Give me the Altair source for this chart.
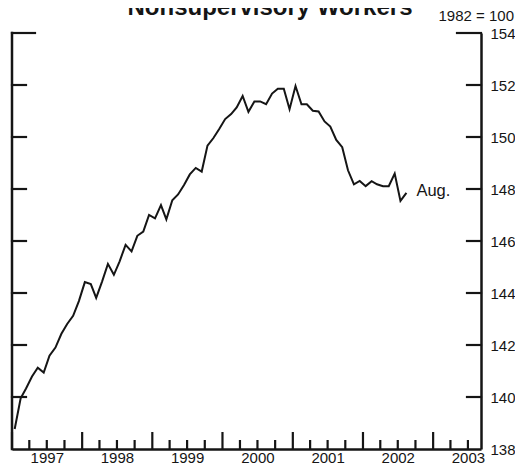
import altair as alt
import pandas as pd

TITLE = "Nonsupervisory Workers"
UNIT_NOTE = "1982 = 100"
END_LABEL = "Aug."
FIRST_MONTH = "1997-01-01"

# Monthly index values, Jan 1997 - Aug 2002
VALUES = [
    138.77, 139.95, 140.33, 140.79, 141.13, 140.94, 141.59, 141.90, 142.43, 142.81, 143.12, 143.69,
    144.42, 144.34, 143.81, 144.45, 145.12, 144.70, 145.22, 145.85, 145.60, 146.20, 146.36, 147.00,
    146.87, 147.38, 146.83, 147.57, 147.79, 148.15, 148.56, 148.81, 148.67, 149.67, 149.96, 150.31,
    150.69, 150.88, 151.14, 151.58, 150.97, 151.37, 151.37, 151.26, 151.67, 151.86, 151.86, 151.07,
    151.96, 151.26, 151.26, 151.01, 150.98, 150.60, 150.40, 149.89, 149.61, 148.72, 148.18, 148.31,
    148.11, 148.30, 148.18, 148.11, 148.11, 148.59, 147.54, 147.85,
]

Y_LABELS = [138, 140, 142, 144, 146, 148, 150, 152, 154]
Y_TICKS = [140, 142, 144, 146, 148, 150, 152]
Y_TOP = [154]
YEARS = [1997, 1998, 1999, 2000, 2001, 2002, 2003]
QUARTER_MONTHS = [4, 7, 10]
X_END = (2003, 9, 7)

FONT = "Liberation Sans"
INK = "#151515"
W, H = 469, 416

dates = pd.date_range(FIRST_MONTH, periods=len(VALUES), freq="MS") + pd.Timedelta(days=14)
df = pd.DataFrame({"date": dates, "value": VALUES})

year_ticks = pd.DataFrame({"date": pd.to_datetime([f"{y}-01-01" for y in YEARS])})
quarter_ticks = pd.DataFrame({"date": pd.to_datetime(
    [f"{y}-{m:02d}-01" for y in YEARS for m in QUARTER_MONTHS
     if pd.Timestamp(f"{y}-{m:02d}-01") < pd.Timestamp(*X_END)])})

x_scale = alt.Scale(
    domain=[alt.DateTime(year=1997, month=1, date=1),
            alt.DateTime(year=X_END[0], month=X_END[1], date=X_END[2])],
    nice=False)
y_scale = alt.Scale(domain=[Y_LABELS[0], Y_LABELS[-1]], nice=False, zero=False)

X_AXIS = alt.Axis(
    values=[alt.DateTime(year=y, month=7, date=1) for y in YEARS],
    format="%Y", formatType="time", ticks=False, tickSize=0, grid=False,
    domain=True, domainColor=INK, domainWidth=2.5, labelFont=FONT,
    labelFontSize=15, labelColor=INK, labelPadding=13,
    labelBaseline="alphabetic", labelFlush=False, labelOverlap=False)
Y_AXIS = alt.Axis(
    orient="right", values=Y_LABELS, ticks=False, tickSize=0, grid=False,
    domain=True, domainColor=INK, domainWidth=2.5, labelFont=FONT,
    labelFontSize=15, labelColor=INK, labelPadding=9, labelFlush=False,
    labelOverlap=False, labelBaseline="middle")


def X(field):
    return alt.X(field, type="temporal", scale=x_scale, title=None, axis=X_AXIS)


def Y(field):
    return alt.Y(field, type="quantitative", scale=y_scale, title=None, axis=Y_AXIS)


line = alt.Chart(df).mark_line(color=INK, strokeWidth=2).encode(
    x=X("date"), y=Y("value"))


def ytick_layer(vals, x0, x1):
    return alt.Chart(pd.DataFrame({"value": vals})).mark_rule(
        color=INK, strokeWidth=2.2, strokeCap="square").encode(
        y=Y("value"), x=alt.value(x0), x2=alt.value(x1))


def xtick_layer(frame, length):
    return alt.Chart(frame).mark_rule(color=INK, strokeWidth=2.2).encode(
        x=X("date"), y=alt.value(H - length), y2=alt.value(H))


left_line = alt.Chart(pd.DataFrame({"a": [0]})).mark_rule(
    color=INK, strokeWidth=2.5, strokeCap="square").encode(
    x=alt.value(0), y=alt.value(0), y2=alt.value(H))

end_label = alt.Chart(pd.DataFrame({
    "date": [dates[-1]], "value": [VALUES[-1]], "t": [END_LABEL]})).mark_text(
    align="left", baseline="middle", dx=10, dy=-2, font=FONT, fontSize=16.5,
    color=INK).encode(x=X("date"), y=Y("value"), text="t:N")

note = alt.Chart(pd.DataFrame({"t": [UNIT_NOTE]})).mark_text(
    align="right", baseline="alphabetic", font=FONT, fontSize=15,
    color=INK).encode(x=alt.value(W + 33), y=alt.value(-12), text="t:N")

title = alt.Chart(pd.DataFrame({"t": [TITLE]})).mark_text(
    align="center", baseline="alphabetic", font=FONT, fontSize=24,
    fontWeight="bold", color=INK).encode(
    x=alt.value(258), y=alt.value(-18), text="t:N")

chart = alt.layer(
    line,
    ytick_layer(Y_TICKS, 0, 14), ytick_layer(Y_TOP, 0, 23),
    ytick_layer(Y_TICKS, W - 14, W), ytick_layer(Y_TOP, W - 24, W),
    xtick_layer(year_ticks, 17), xtick_layer(quarter_ticks, 9),
    left_line, end_label, note, title,
).properties(
    width=W, height=H,
    autosize=alt.AutoSizeParams(type="none"),
    padding={"left": 4, "top": 25, "right": 34, "bottom": 15},
).configure_view(stroke=None)

chart.save("out.html", embed_options={"renderer": "svg", "actions": False})
